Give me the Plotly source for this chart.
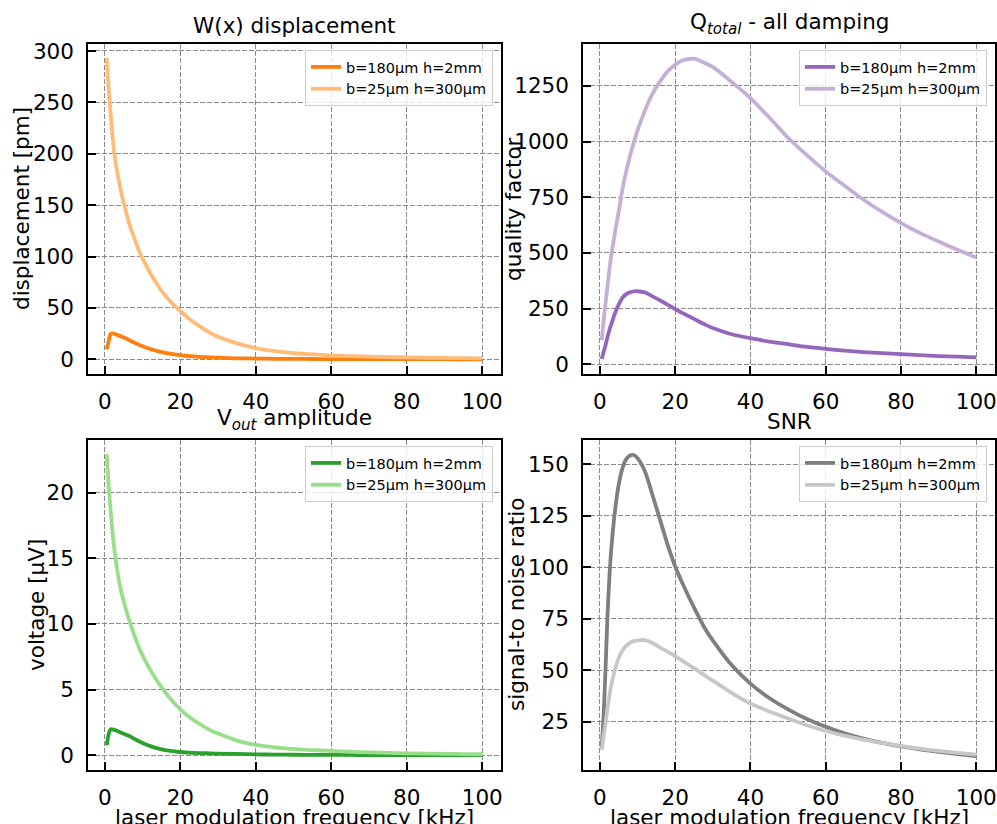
import plotly.graph_objects as go

# ---------------- data ----------------
freq_khz = [0.5, 1, 1.5, 2, 2.5, 3, 4, 5, 6, 7, 8, 9, 10, 12, 14, 16, 18, 20, 22, 25, 28, 30,
            35, 40, 45, 50, 55, 60, 65, 70, 75, 80, 85, 90, 95, 100]

disp_b180 = [9.7, 17.5, 24.5, 25.2, 24.8, 24.2, 22.8, 21.2, 19.4, 17.6, 15.9, 14.2, 12.7, 10.0, 7.9, 6.2,
             5.0, 4.0, 3.2, 2.4, 1.8, 1.5, 1.0, 0.7, 0.5, 0.38, 0.29, 0.22, 0.18, 0.15, 0.12, 0.1,
             0.09, 0.08, 0.07, 0.06]
disp_b25 = [293, 262, 240, 218, 200, 188, 168, 152, 138, 126, 116, 106, 98, 84, 72, 62, 54, 47, 40.5,
            32.5, 25.5, 22, 15.5, 10.8, 7.9, 5.9, 4.7, 3.8, 3.1, 2.6, 2.2, 1.8, 1.5, 1.3, 1.15, 1.0]

q_b180 = [24, 55, 85, 120, 152, 178, 228, 268, 298, 315, 323, 327, 328, 322, 305, 287, 268, 248, 230,
          204, 178, 163, 135, 117, 102, 90, 78, 69, 61, 55, 50, 46, 41, 37, 34, 31]
q_b25 = [108, 195, 272, 345, 420, 485, 590, 685, 785, 865, 935, 995, 1050, 1140, 1215, 1270, 1315, 1345,
         1365, 1372, 1352, 1335, 1268, 1195, 1108, 1017, 939, 866, 802, 740, 684, 634, 590, 551, 514, 479]

vout_b180 = [0.76, 1.6, 1.98, 1.97, 1.93, 1.88, 1.76, 1.64, 1.52, 1.38, 1.22, 1.07, 0.93, 0.7, 0.53, 0.4,
             0.31, 0.25, 0.21, 0.17, 0.14, 0.12, 0.1, 0.07, 0.05, 0.04, 0.035, 0.03, 0.025, 0.02, 0.018,
             0.015, 0.013, 0.01, 0.01, 0.01]
vout_b25 = [22.9, 20.5, 18.7, 17.0, 15.7, 14.6, 12.9, 11.7, 10.7, 9.8, 9.0, 8.2, 7.6, 6.5, 5.6, 4.8, 4.1,
            3.5, 3.0, 2.4, 1.9, 1.65, 1.12, 0.79, 0.6, 0.48, 0.4, 0.33, 0.27, 0.22, 0.18, 0.15, 0.13,
            0.11, 0.095, 0.08]

snr_b180 = [12, 28, 50, 75, 94, 108, 127, 140, 148, 152.5, 154.3, 154.5, 153, 146.5, 135, 123, 111,
            100.5, 92, 80.5, 70, 64.5, 52.5, 43.5, 36.5, 31, 26.3, 22.5, 19.4, 16.8, 14.7, 13, 11.6,
            10.4, 9.3, 8.3]
snr_b25 = [11.3, 18, 24, 31, 37, 42.5, 50, 56, 59.5, 61.8, 63.3, 64.1, 64.5, 64.6, 63.2, 61, 59, 56.8,
           54.5, 51, 47.3, 45, 39, 33.8, 30, 26.6, 23.3, 20.5, 18.2, 16.3, 14.7, 13.2, 11.9, 10.8,
           9.9, 9.0]

series_names = ["b=180μm h=2mm", "b=25μm h=300μm"]
panel_titles = ["W(x) displacement", "Q<sub><i>total</i></sub> - all damping",
                "V<sub><i>out</i></sub> amplitude", "SNR"]
y_titles = ["displacement [pm]", "quality factor", "voltage [μV]", "signal-to noise ratio"]
x_title = "laser modulation frequency [kHz]"
x_ticks = [0, 20, 40, 60, 80, 100]

# ---------------- layout geometry ----------------
W, H = 997, 824
FONT = "DejaVu Sans"
FS = 21.5

def px_x(v):
    return v / W

def px_y(v):
    return 1 - v / H

panels = [
    dict(x0=88, x1=501, y0=44, y1=374, data=(disp_b180, disp_b25), colors=("#ff7f0e", "#ffbb78"),
         yrange=[-14.3, 306.8], ytick0=0, dtick=50, ylab_x=21),
    dict(x0=583, x1=995, y0=44, y1=374, data=(q_b180, q_b25), colors=("#9467bd", "#c5b0d5"),
         yrange=[-43.6, 1438], ytick0=0, dtick=250, ylab_x=513),
    dict(x0=88, x1=501, y0=440, y1=770, data=(vout_b180, vout_b25), colors=("#2ca02c", "#98df8a"),
         yrange=[-1.12, 24.0], ytick0=0, dtick=5, ylab_x=36),
    dict(x0=583, x1=995, y0=440, y1=770, data=(snr_b180, snr_b25), colors=("#7f7f7f", "#c7c7c7"),
         yrange=[1.54, 161.8], ytick0=25, dtick=25, ylab_x=516),
]

fig = go.Figure()
layout = dict(
    width=W, height=H,
    margin=dict(l=0, r=0, t=0, b=0, autoexpand=False),
    paper_bgcolor="white", plot_bgcolor="white",
    font=dict(family=FONT, size=FS, color="black"),
    annotations=[],
)

grid_color = "#8a8a8a"
for i, p in enumerate(panels):
    n = i + 1
    xa = "xaxis" if n == 1 else f"xaxis{n}"
    ya = "yaxis" if n == 1 else f"yaxis{n}"
    xref = "x" if n == 1 else f"x{n}"
    yref = "y" if n == 1 else f"y{n}"
    leg = "legend" if n == 1 else f"legend{n}"

    for k in range(2):
        fig.add_trace(go.Scatter(
            x=freq_khz, y=p["data"][k], mode="lines", name=series_names[k],
            line=dict(color=p["colors"][k], width=3.8, shape="spline", smoothing=0.6),
            xaxis=xref, yaxis=yref, legend=leg, showlegend=True,
        ))

    common = dict(
        showline=True, linecolor="black", linewidth=1.5, mirror=True,
        ticks="inside", tickcolor="black", tickwidth=2, ticklen=8,
        showgrid=True, gridcolor=grid_color, gridwidth=1, griddash="5px,2px",
        zeroline=False, automargin=False,
        tickfont=dict(family=FONT, size=FS, color="black"),
    )
    layout[xa] = dict(common, domain=[px_x(p["x0"]), px_x(p["x1"])], anchor=yref,
                      range=[-4.475, 104.975], tickmode="array", tickvals=x_ticks,
                      ticklabelstandoff=7)
    layout[ya] = dict(common, domain=[px_y(p["y1"]), px_y(p["y0"])], anchor=xref,
                      range=p["yrange"], tick0=p["ytick0"], dtick=p["dtick"],
                      ticklabelstandoff=8)

    layout[leg] = dict(
        x=px_x(p["x1"] - 8), y=px_y(p["y0"] + 6), xanchor="right", yanchor="top",
        bgcolor="rgba(255,255,255,0.8)", bordercolor="#cccccc", borderwidth=1,
        font=dict(family=FONT, size=14.5, color="black"), tracegroupgap=0,
    )

    # panel title
    layout["annotations"].append(dict(
        text=panel_titles[i], x=px_x((p["x0"] + p["x1"]) / 2), y=px_y(p["y0"] - 4),
        xref="paper", yref="paper", xanchor="center", yanchor="bottom", showarrow=False,
        font=dict(family=FONT, size=FS, color="black"),
    ))
    # y label
    layout["annotations"].append(dict(
        text=y_titles[i], x=px_x(p["ylab_x"]), y=px_y((p["y0"] + p["y1"]) / 2),
        xref="paper", yref="paper", xanchor="center", yanchor="middle", textangle=-90,
        showarrow=False, font=dict(family=FONT, size=FS, color="black"),
    ))
    if n >= 3:
        layout["annotations"].append(dict(
            text=x_title, x=px_x((p["x0"] + p["x1"]) / 2), y=px_y(817),
            xref="paper", yref="paper", xanchor="center", yanchor="middle",
            showarrow=False, font=dict(family=FONT, size=FS, color="black"),
        ))

fig.update_layout(**layout)
fig.write_html(
    "out.html",
    config={"displayModeBar": False},
    post_script="document.body.style.margin='0';document.body.style.overflow='hidden';",
)
